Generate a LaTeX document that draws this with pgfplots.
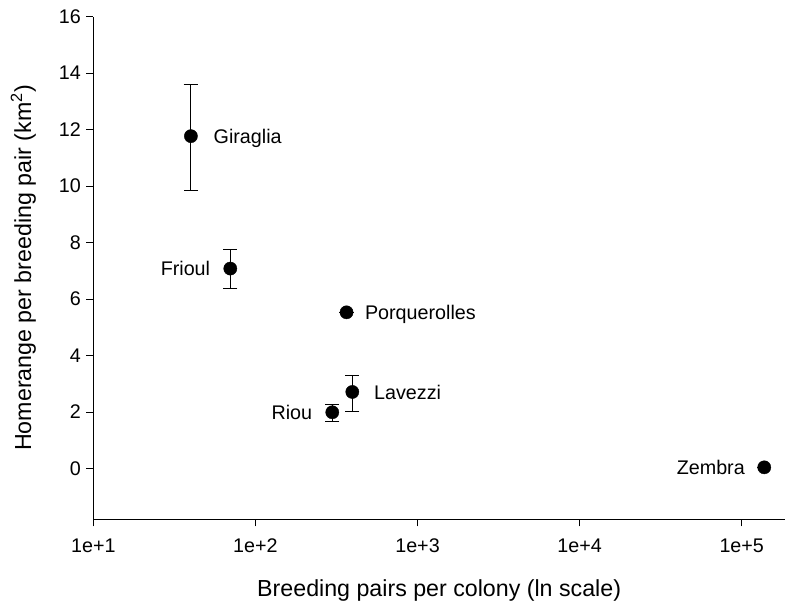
\documentclass[border=0pt]{standalone}
\usepackage{fontspec}
\setmainfont{Liberation Sans}
\usepackage{pgfplots}
\pgfplotsset{compat=1.18}
\begin{document}
\begin{tikzpicture}
\path[use as bounding box] (-93.3bp,-85.7bp) rectangle (691.7bp,519.3bp);
\begin{axis}[
  at={(0,0)}, anchor=south west,
  scale only axis,
  width=691.7bp, height=502.6bp,
  xmode=log,
  xmin=10, xmax=184900,
  ymin=-1.8, ymax=16,
  axis x line*=bottom, axis y line*=left,
  axis line style={line width=0.8pt},
  xtick={10,100,1000,10000,100000},
  xticklabels={1e+1,1e+2,1e+3,1e+4,1e+5},
  xminorticks=false,
  ytick={0,2,4,6,8,10,12,14,16},
  tick align=outside,
  major tick length=7bp,
  tick style={line width=0.8pt, black},
  /pgf/number format/assume math mode=true,
  ticklabel style={font=\fontsize{19.8}{22}\selectfont},
  xticklabel style={yshift=-9bp},
  yticklabel style={xshift=-2bp},
  label style={font=\fontsize{23.3}{27}\selectfont},
  xlabel={Breeding pairs per colony (ln scale)},
  ylabel={Homerange per breeding pair (km\textsuperscript{2})},
  xlabel style={yshift=-20bp},
  ylabel style={yshift=16bp},
  clip=false,
]
\addplot[only marks, mark=*, mark size=6.6bp, black,
  error bars/.cd, y dir=both, y explicit,
  error bar style={line width=0.9pt, black},
  error mark options={rotate=90, mark size=7.2bp, line width=0.9pt, black}]
coordinates {
  (40,11.77) += (0,1.84) -= (0,1.94)
  (70,7.08) += (0,0.69) -= (0,0.72)
  (365,5.53) += (0,0) -= (0,0)
  (396,2.71) += (0,0.60) -= (0,0.68)
  (298,1.99) += (0,0.28) -= (0,0.31)
  (137700,0.04) += (0,0) -= (0,0)
};
\begin{scope}[font=\fontsize{19.8}{22}\selectfont, every node/.style={inner sep=0pt, yshift=-7.3bp}]
\node[anchor=base west] at (axis cs:40,11.77) [xshift=22.6bp] {Giraglia};
\node[anchor=base east] at (axis cs:70,7.08) [xshift=-20bp] {Frioul};
\node[anchor=base west] at (axis cs:365,5.53) [xshift=18.3bp] {Porquerolles};
\node[anchor=base west] at (axis cs:396,2.71) [xshift=21.7bp] {Lavezzi};
\node[anchor=base east] at (axis cs:298,1.99) [xshift=-20bp] {Riou};
\node[anchor=base east] at (axis cs:137700,0.04) [xshift=-19.3bp] {Zembra};
\end{scope}
\end{axis}
\end{tikzpicture}
\end{document}
